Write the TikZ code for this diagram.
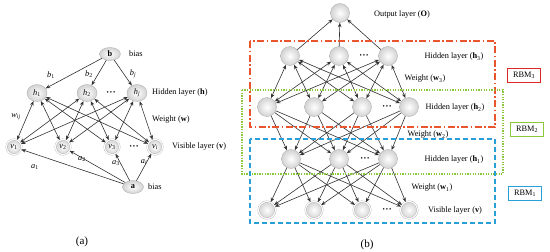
\documentclass[tikz,border=0pt]{standalone}
\usepackage{fontspec}
\setmainfont{Liberation Serif}
\usetikzlibrary{arrows.meta,shapes.geometric}
\definecolor{rbmred}{RGB}{235,85,45}
\definecolor{rbmgreen}{RGB}{140,200,60}
\definecolor{rbmblue}{RGB}{40,160,215}
\definecolor{tagred}{RGB}{225,40,40}
\definecolor{edgecol}{RGB}{50,50,50}
\newcommand{\vsub}[2]{\textit{#1}\textsubscript{#2}}
\newcommand{\mydots}{\fontsize{6.5}{6.5}\selectfont\textbullet\,\textbullet\,\textbullet}
\begin{document}
\begin{tikzpicture}[x=1pt,y=-1pt,
  font=\fontsize{8.3}{10}\selectfont,
  unit/.style={draw=gray!60, line width=0.4pt, shading=radial, inner color=white, outer color=gray!35, inner sep=0pt},
  neuron/.style={unit, circle, minimum size=19pt},
  dneuron/.style={unit, circle, minimum size=17pt, double=white, double distance=1.1pt},
  eneuron/.style={unit, ellipse, minimum width=20pt, minimum height=17pt},
  dvneuron/.style={unit, circle, minimum size=15pt, double=white, double distance=1.1pt},
  biasnode/.style={unit, ellipse, minimum width=21pt, minimum height=13pt},
  tip/.tip={Stealth[length=4.5pt,width=3.6pt]},
  conn/.style={draw=edgecol, line width=0.6pt, -tip},
  biconn/.style={draw=edgecol, line width=0.6pt, tip-tip},
  lbl/.style={inner sep=0pt},
  redbox/.style={draw=rbmred, line width=1.1pt, dash pattern=on 7pt off 2.5pt on 1.5pt off 2.5pt},
  greenbox/.style={draw=rbmgreen, line width=1.1pt, dash pattern=on 1.3pt off 1.3pt},
  bluebox/.style={draw=rbmblue, line width=1.1pt, dash pattern=on 5pt off 3pt},
  rbmtag/.style={line width=1pt, minimum width=33pt, minimum height=14pt, inner sep=0pt, fill=white}
]
\useasboundingbox (0,0) rectangle (550,252);

% ---------------- panel (a) ----------------
\node[biasnode] (b) at (110,54) {\textbf{b}};
\node[lbl, anchor=west] (bbias) at (129,54) {bias};
\node[eneuron] (h1) at (37,93) {\vsub{h}{1}};
\node[eneuron] (h2) at (87,93) {\vsub{h}{2}};
\node[eneuron] (hj) at (137,93) {\vsub{h}{\textit{j}}};
\node[lbl] (hdots) at (111,93) {\mydots};
\node[lbl, anchor=west] (hlab) at (152,93) {Hidden layer (\textbf{h})};
\node[lbl, anchor=west] (wlab) at (152,120) {Weight (\textbf{w})};
\node[dvneuron] (v1) at (14,147) {\vsub{v}{1}};
\node[dvneuron] (v2) at (63,147) {\vsub{v}{2}};
\node[dvneuron] (v3) at (112,147) {\vsub{v}{3}};
\node[dvneuron] (vi) at (155,147) {\vsub{v}{\textit{i}}};
\node[lbl] (vdots) at (134,147) {\mydots};
\node[lbl, anchor=west] (vlab) at (172,147) {Visible layer (\textbf{v})};
\node[biasnode] (a) at (133,187) {\textbf{a}};
\node[lbl, anchor=west] (abias) at (148,187) {bias};

\foreach \h in {h1,h2,hj} \draw[conn] (b) -- (\h);
\foreach \h in {h1,h2,hj}
  \foreach \v in {v1,v2,v3,vi}
    \draw[biconn] (\h) -- (\v);
\foreach \v in {v1,v2,v3,vi} \draw[conn] (a) -- (\v);

\node[lbl] (lb1) at (51,75) {\vsub{b}{1}};
\node[lbl] (lb2) at (89,74) {\vsub{b}{2}};
\node[lbl] (lbj) at (133,74) {\vsub{b}{\textit{j}}};
\node[lbl] (lwij) at (16,117) {\vsub{w}{\textit{ij}}};
\node[lbl] (la1) at (35,167) {\vsub{a}{1}};
\node[lbl] (la2) at (82,159) {\vsub{a}{2}};
\node[lbl] (la3) at (116,163) {\vsub{a}{3}};
\node[lbl] (lai) at (144,162) {\vsub{a}{\textit{i}}};
\node[lbl] (capa) at (82,242) {\fontsize{11}{12}\selectfont(a)};

% ---------------- panel (b) ----------------
\node[neuron] (O) at (340,13) {};
\node[lbl] (olab) at (402,15) {Output layer (\textbf{O})};

\node[neuron] (t1) at (290,56) {};
\node[neuron] (t2) at (339,56) {};
\node[neuron] (t3) at (388,56) {};
\node[lbl] (tdots) at (364,56) {\mydots};
\node[lbl] (t3lab) at (454,57) {Hidden layer (\textbf{h}\textsubscript{3})};
\node[lbl] (w3lab) at (425,79) {Weight (\textbf{w}\textsubscript{3})};

\node[neuron] (s1) at (267,107) {};
\node[neuron] (s2) at (314,107) {};
\node[neuron] (s3) at (362,107) {};
\node[neuron] (s4) at (409,107) {};
\node[lbl] (sdots) at (387,107) {\mydots};
\node[lbl] (s2lab) at (455,108) {Hidden layer (\textbf{h}\textsubscript{2})};
\node[lbl] (w2lab) at (428,135) {Weight (\textbf{w}\textsubscript{2})};

\node[neuron] (f1) at (291,159) {};
\node[neuron] (f2) at (339,159) {};
\node[neuron] (f3) at (388,159) {};
\node[lbl] (fdots) at (365,159) {\mydots};
\node[lbl] (f1lab) at (454,160) {Hidden layer (\textbf{h}\textsubscript{1})};
\node[lbl] (w1lab) at (432,188) {Weight (\textbf{w}\textsubscript{1})};

\node[dneuron] (x1) at (267,210) {};
\node[dneuron] (x2) at (314,210) {};
\node[dneuron] (x3) at (362,210) {};
\node[dneuron] (x4) at (409,210) {};
\node[lbl] (xdots) at (387,210) {\mydots};
\node[lbl] (xlab) at (455,211) {Visible layer (\textbf{v})};

\foreach \t in {t1,t2,t3} \draw[conn] (\t) -- (O);
\foreach \t in {t1,t2,t3}
  \foreach \s in {s1,s2,s3,s4}
    \draw[biconn] (\t) -- (\s);
\foreach \s in {s1,s2,s3,s4}
  \foreach \f in {f1,f2,f3}
    \draw[conn] (\s) -- (\f);
\foreach \f in {f1,f2,f3}
  \foreach \x in {x1,x2,x3,x4}
    \draw[conn] (\f) -- (\x);

\draw[redbox] (250,41) rectangle (495,127);
\draw[greenbox] (242,90) rectangle (503,174);
\draw[bluebox] (250,139) rectangle (495,223);

\node[rbmtag, draw=tagred] (rbm3) at (524,75) {RBM\textsubscript{3}};
\node[rbmtag, draw=rbmgreen] (rbm2) at (527,129) {RBM\textsubscript{2}};
\node[rbmtag, draw=rbmblue] (rbm1) at (525,193) {RBM\textsubscript{1}};

\node[lbl] (capb) at (367,245) {\fontsize{11}{12}\selectfont(b)};
\end{tikzpicture}
\end{document}
